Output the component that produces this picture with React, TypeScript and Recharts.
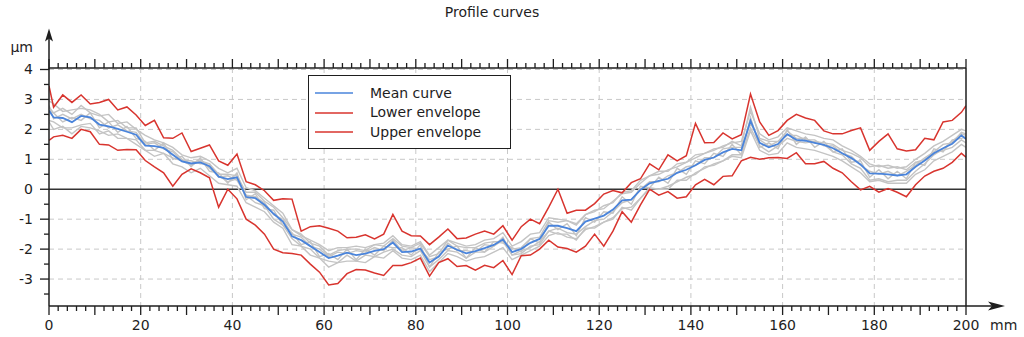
import React from 'react';
import { LineChart, Line, XAxis, YAxis, CartesianGrid, ReferenceLine, Legend } from 'recharts';

// ---------- data ----------
const positionsMm = [0, 1, 3, 5, 7, 9, 11, 13, 15, 17, 19, 21, 23, 25, 27, 29, 31, 33, 35, 37, 39, 41, 43, 45, 47, 49, 51, 53, 55, 57, 59, 61, 63, 65, 67, 69, 71, 73, 75, 77, 79, 81, 83, 85, 87, 89, 91, 93, 95, 97, 99, 101, 103, 105, 107, 109, 111, 113, 115, 117, 119, 121, 123, 125, 127, 129, 131, 133, 135, 137, 139, 141, 143, 145, 147, 149, 151, 153, 155, 157, 159, 161, 163, 165, 167, 169, 171, 173, 175, 177, 179, 181, 183, 185, 187, 189, 191, 193, 195, 197, 199, 200];

const meanCurve = [2.63, 2.40, 2.38, 2.24, 2.45, 2.40, 2.16, 2.10, 2.02, 1.92,
  1.82, 1.46, 1.44, 1.38, 1.15, 0.93, 0.86, 0.90, 0.77, 0.42,
  0.34, 0.40, -0.26, -0.30, -0.52, -0.82, -1.08, -1.57, -1.70, -1.90,
  -2.10, -2.30, -2.22, -2.12, -2.20, -2.15, -2.06, -2.00, -1.78, -2.10,
  -2.08, -1.98, -2.45, -2.25, -1.88, -2.02, -2.14, -2.07, -1.97, -1.86,
  -1.68, -2.10, -1.99, -1.79, -1.66, -1.22, -1.22, -1.30, -1.40, -1.08,
  -0.98, -0.88, -0.68, -0.37, -0.35, -0.02, 0.20, 0.28, 0.35, 0.55,
  0.65, 0.80, 0.98, 1.06, 1.23, 1.35, 1.30, 2.29, 1.55, 1.40,
  1.51, 1.84, 1.65, 1.62, 1.55, 1.48, 1.37, 1.20, 1.04, 0.83,
  0.53, 0.52, 0.50, 0.46, 0.50, 0.75, 0.96, 1.20, 1.37, 1.52,
  1.80, 1.68];

const lowerEnvelope = [1.63, 1.75, 1.80, 1.70, 2.00, 1.92, 1.50, 1.48, 1.30, 1.33,
  1.32, 0.96, 0.75, 0.55, 0.10, 0.50, 0.68, 0.55, 0.38, -0.60,
  0.00, -0.32, -1.00, -1.20, -1.50, -2.00, -2.12, -2.15, -2.20, -2.50,
  -2.77, -3.20, -3.15, -2.82, -2.68, -2.70, -2.80, -2.88, -2.55, -2.55,
  -2.45, -2.30, -2.90, -2.45, -2.32, -2.58, -2.55, -2.70, -2.54, -2.62,
  -2.38, -2.85, -2.22, -2.20, -2.00, -1.70, -1.93, -1.98, -2.10, -1.90,
  -1.50, -1.90, -1.40, -0.75, -1.10, -0.52, 0.00, -0.20, -0.08, -0.30,
  -0.25, 0.15, 0.33, 0.15, 0.43, 0.45, 0.95, 1.07, 1.00, 1.05,
  1.06, 1.03, 1.22, 0.85, 0.85, 0.93, 0.70, 0.55, 0.25, -0.02,
  0.10, -0.10, 0.02, -0.10, -0.25, 0.15, 0.44, 0.60, 0.70, 0.90,
  1.20, 1.07];

const upperEnvelope = [3.45, 2.74, 3.15, 2.90, 3.15, 2.85, 2.90, 3.00, 2.65, 2.75,
  2.48, 2.13, 2.30, 1.72, 1.70, 1.88, 1.26, 1.37, 1.48, 0.95,
  0.80, 1.18, 0.25, 0.15, -0.05, -0.37, -0.32, -0.33, -1.40, -1.25,
  -1.22, -1.30, -1.40, -1.62, -1.60, -1.52, -1.66, -1.50, -0.84, -1.40,
  -1.55, -1.56, -1.85, -1.60, -1.33, -1.65, -1.63, -1.50, -1.40, -1.50,
  -1.22, -1.70, -1.25, -1.00, -1.15, -0.60, 0.00, -0.80, -0.70, -0.70,
  -0.48, -0.16, -0.04, -0.12, 0.22, 0.35, 0.85, 0.65, 1.15, 0.95,
  1.12, 2.20, 1.55, 1.56, 1.88, 1.68, 1.82, 3.18, 2.25, 1.80,
  1.96, 2.30, 2.50, 2.38, 2.30, 1.95, 1.85, 1.85, 1.96, 2.05,
  1.30, 1.60, 1.85, 1.35, 1.28, 1.32, 1.70, 1.65, 2.25, 2.30,
  2.57, 2.79];

const profile1 = [2.75, 2.55, 2.70, 2.50, 2.80, 2.55, 2.45, 2.50, 2.20, 2.25,
  2.00, 1.80, 1.65, 1.55, 1.40, 1.15, 1.05, 1.10, 0.95, 0.70,
  0.55, 0.70, 0.05, -0.05, -0.30, -0.55, -0.80, -1.35, -1.55, -1.70,
  -1.85, -2.05, -1.95, -1.95, -1.90, -1.95, -1.85, -1.80, -1.55, -1.85,
  -1.90, -1.75, -2.20, -1.95, -1.70, -1.80, -1.90, -1.85, -1.70, -1.65,
  -1.45, -1.90, -1.75, -1.50, -1.45, -0.95, -1.00, -1.05, -1.15, -0.85,
  -0.70, -0.65, -0.40, -0.15, -0.10, 0.20, 0.45, 0.50, 0.65, 0.75,
  0.90, 1.05, 1.20, 1.30, 1.45, 1.55, 1.60, 2.60, 1.85, 1.65,
  1.75, 2.05, 1.95, 1.85, 1.80, 1.70, 1.65, 1.45, 1.30, 1.10,
  0.85, 0.75, 0.80, 0.70, 0.75, 1.00, 1.20, 1.45, 1.60, 1.80,
  2.00, 1.95];

const profile2 = [2.30, 2.25, 2.05, 2.05, 2.15, 2.20, 1.85, 1.95, 1.70, 1.70,
  1.50, 1.30, 1.10, 1.20, 0.85, 0.75, 0.55, 0.70, 0.45, 0.20,
  0.15, 0.10, -0.45, -0.60, -0.75, -1.10, -1.30, -1.85, -1.90, -2.20,
  -2.30, -2.60, -2.45, -2.40, -2.40, -2.45, -2.25, -2.30, -2.05, -2.30,
  -2.35, -2.20, -2.75, -2.45, -2.15, -2.25, -2.40, -2.30, -2.25, -2.10,
  -1.95, -2.35, -2.20, -2.05, -1.90, -1.55, -1.45, -1.60, -1.65, -1.35,
  -1.25, -1.10, -0.95, -0.65, -0.60, -0.30, 0.02, 0.00, 0.10, 0.25,
  0.40, 0.50, 0.75, 0.80, 0.95, 1.10, 1.05, 1.95, 1.30, 1.15,
  1.20, 1.55, 1.40, 1.35, 1.30, 1.20, 1.10, 0.95, 0.75, 0.55,
  0.25, 0.30, 0.20, 0.20, 0.20, 0.50, 0.65, 0.95, 1.10, 1.25,
  1.50, 1.40];

const profile3 = [2.95, 2.85, 2.60, 2.65, 2.70, 2.65, 2.50, 2.25, 2.30, 2.05,
  2.05, 1.55, 1.60, 1.45, 1.30, 1.00, 0.85, 1.00, 0.70, 0.45,
  0.25, 0.35, -0.20, -0.45, -0.55, -1.00, -1.20, -1.65, -1.90, -2.00,
  -2.30, -2.40, -2.45, -2.20, -2.40, -2.20, -2.25, -2.10, -2.00, -2.20,
  -2.25, -2.05, -2.60, -2.35, -2.05, -2.10, -2.30, -2.10, -2.10, -1.90,
  -1.70, -2.00, -1.95, -1.65, -1.60, -1.05, -1.10, -1.05, -1.20, -0.85,
  -0.75, -0.55, -0.45, -0.10, -0.05, 0.30, 0.45, 0.60, 0.60, 0.85,
  0.90, 1.15, 1.20, 1.35, 1.40, 1.60, 1.45, 2.75, 1.70, 1.60,
  1.60, 1.95, 1.70, 1.70, 1.55, 1.50, 1.25, 1.15, 0.85, 0.70,
  0.30, 0.35, 0.25, 0.30, 0.30, 0.60, 0.85, 1.15, 1.35, 1.60,
  1.85, 1.80];

const profile4 = [2.25, 2.00, 2.10, 1.85, 2.10, 2.05, 1.95, 1.80, 1.85, 1.70,
  1.65, 1.30, 1.30, 1.20, 1.05, 0.95, 0.80, 0.95, 0.85, 0.50,
  0.50, 0.45, -0.10, -0.10, -0.40, -0.60, -0.95, -1.35, -1.50, -1.80,
  -1.90, -2.20, -2.05, -2.00, -2.00, -2.05, -1.85, -1.90, -1.65, -1.90,
  -1.95, -1.80, -2.25, -2.15, -1.70, -1.90, -1.95, -1.95, -1.80, -1.75,
  -1.75, -2.20, -2.15, -1.90, -1.85, -1.40, -1.50, -1.50, -1.70, -1.30,
  -1.30, -1.10, -1.00, -0.60, -0.70, -0.30, 0.05, 0.00, 0.00, 0.30,
  0.30, 0.55, 0.70, 0.85, 0.95, 1.15, 1.15, 2.05, 1.45, 1.25,
  1.45, 1.70, 1.60, 1.55, 1.60, 1.55, 1.50, 1.30, 1.20, 1.05,
  0.75, 0.80, 0.70, 0.75, 0.65, 0.90, 1.00, 1.20, 1.30, 1.40,
  1.65, 1.55];

const profile5 = [2.60, 2.55, 2.25, 2.40, 2.30, 2.55, 2.05, 2.25, 1.90, 2.10,
  1.70, 1.60, 1.30, 1.55, 1.00, 1.10, 0.75, 1.05, 0.60, 0.55,
  0.20, 0.55, -0.35, -0.15, -0.65, -0.70, -1.20, -1.45, -1.85, -1.75,
  -2.25, -2.15, -2.35, -2.00, -2.35, -2.00, -2.20, -1.90, -1.95, -1.95,
  -2.20, -1.85, -2.60, -2.10, -2.00, -1.90, -2.30, -1.95, -2.10, -1.75,
  -1.80, -1.95, -2.10, -1.65, -1.80, -1.10, -1.35, -1.15, -1.55, -0.95,
  -1.10, -0.75, -0.80, -0.25, -0.50, 0.10, 0.05, 0.40, 0.20, 0.70,
  0.50, 0.95, 0.85, 1.20, 1.10, 1.50, 1.15, 2.40, 1.40, 1.55,
  1.35, 2.00, 1.50, 1.75, 1.40, 1.60, 1.25, 1.35, 0.90, 0.95,
  0.40, 0.65, 0.35, 0.60, 0.35, 0.90, 0.80, 1.35, 1.25, 1.65,
  1.70, 1.75];

const profile6 = [2.80, 2.35, 2.50, 2.35, 2.50, 2.35, 2.30, 2.05, 2.15, 1.95,
  1.90, 1.50, 1.55, 1.35, 1.25, 0.95, 0.95, 0.85, 0.85, 0.40,
  0.45, 0.30, -0.20, -0.25, -0.45, -0.85, -1.00, -1.50, -1.60, -1.90,
  -2.00, -2.25, -2.10, -2.15, -2.05, -2.10, -1.95, -2.05, -1.70, -2.05,
  -1.95, -2.00, -2.35, -2.25, -1.80, -2.05, -2.05, -2.10, -1.85, -1.90,
  -1.60, -2.20, -2.05, -1.95, -1.75, -1.40, -1.30, -1.45, -1.50, -1.25,
  -1.05, -1.00, -0.75, -0.45, -0.35, 0.00, 0.25, 0.25, 0.45, 0.55,
  0.75, 0.80, 1.05, 1.05, 1.35, 1.40, 1.40, 2.20, 1.65, 1.45,
  1.60, 1.80, 1.80, 1.65, 1.65, 1.45, 1.45, 1.20, 1.10, 0.80,
  0.60, 0.50, 0.60, 0.45, 0.60, 0.80, 1.05, 1.25, 1.50, 1.55,
  1.90, 1.85];

const profileKeys = ['p1', 'p2', 'p3', 'p4', 'p5', 'p6'];
const profileSeries = [profile1, profile2, profile3, profile4, profile5, profile6];

const xTickLabels = [0, 20, 40, 60, 80, 100, 120, 140, 160, 180, 200];
const yTickLabels = [-3, -2, -1, 0, 1, 2, 3, 4];
const xGridValues = [20, 40, 60, 80, 100, 120, 140, 160, 180];
const yGridValues = [-3, -2, -1, 1, 2, 3, 4];
const xDomain: [number, number] = [0, 200];
const yDomain: [number, number] = [-3.9, 4.05];
const xMinorTicks = Array.from({ length: 101 }, (_, i) => i * 2);
const yMinorTicks = Array.from({ length: 16 }, (_, i) => -3.5 + i * 0.5);

const legendOrder = ['Mean curve', 'Lower envelope', 'Upper envelope'];

const rows = positionsMm.map((x, i) => {
  const r: Record<string, number> = {
    x,
    mean: meanCurve[i],
    lower: lowerEnvelope[i],
    upper: upperEnvelope[i],
  };
  profileKeys.forEach((k, j) => {
    r[k] = profileSeries[j][i];
  });
  return r;
});

// ---------- styles ----------
const FONT = '"DejaVu Sans", Verdana, sans-serif';
const AXIS = '#1e1e1e';
const RED = '#d8342e';
const BLUE = '#4a84db';
const GREY = '#c4c4c4';
const legendColors: Record<string, string> = {
  'Mean curve': BLUE,
  'Lower envelope': RED,
  'Upper envelope': RED,
};

function BottomTick(props: any) {
  const x = Number(props.x);
  const y0 = Number(props.y);
  const v = Number(props.payload?.value);
  const len = v % 10 === 0 ? 9 : 5;
  return (
    <g>
      <rect x={x - 0.65} y={y0} width={1.3} height={len} fill={AXIS} />
      {xTickLabels.includes(v) && (
        <text x={x} y={y0 + 24} textAnchor="middle" fontSize={14} fill={AXIS} fontFamily={FONT}>
          {v}
        </text>
      )}
      {v === xDomain[1] && (
        <g>
          <rect x={x} y={y0 - 0.75} width={30} height={1.5} fill={AXIS} />
          <path d={`M${x + 39},${y0} L${x + 22},${y0 - 4.5} L${x + 26},${y0} L${x + 22},${y0 + 4.5} Z`} fill={AXIS} />
          <text x={x + 24} y={y0 + 24} textAnchor="start" fontSize={14} fill={AXIS} fontFamily={FONT}>
            mm
          </text>
        </g>
      )}
    </g>
  );
}

function TopTick(props: any) {
  const x = Number(props.x);
  const y = Number(props.y);
  const v = Number(props.payload?.value);
  const len = v % 10 === 0 ? 9 : 5;
  return (
    <g>
      <rect x={x - 0.65} y={y - len} width={1.3} height={len} fill={AXIS} />
    </g>
  );
}

function LeftTick(props: any) {
  const x = Number(props.x);
  const y = Number(props.y);
  const v = Number(props.payload?.value);
  const major = Number.isInteger(v);
  const len = major ? 9 : 5;
  return (
    <g>
      <rect x={x - len} y={y - 0.65} width={len} height={1.3} fill={AXIS} />
      {major && yTickLabels.includes(v) && (
        <text x={x - 16} y={y + 5} textAnchor="end" fontSize={14} fill={AXIS} fontFamily={FONT}>
          {v}
        </text>
      )}
      {v === yTickLabels[yTickLabels.length - 1] && (
        <g>
          <rect x={x - 0.75} y={y - 32} width={1.5} height={32} fill={AXIS} />
          <path d={`M${x},${y - 41} L${x - 4},${y - 28} L${x},${y - 31} L${x + 4},${y - 28} Z`} fill={AXIS} />
          <text x={x - 16} y={y - 17} textAnchor="end" fontSize={14} fill={AXIS} fontFamily={FONT}>
            µm
          </text>
        </g>
      )}
    </g>
  );
}

function renderLegend(props: any) {
  const payload: any[] = props.payload || [];
  const items = legendOrder.map((name) => payload.find((p) => p.value === name) || { value: name });
  return (
    <div
      style={{
        boxSizing: 'border-box',
        width: 203,
        height: 74,
        border: `1px solid ${AXIS}`,
        background: '#fff',
        paddingTop: 7.5,
        fontFamily: FONT,
        fontSize: 14,
        color: AXIS,
      }}
    >
      {items.map((it: any) => (
        <div key={it.value} style={{ display: 'flex', alignItems: 'center', height: 19.5 }}>
          <svg width={44} height={6} style={{ display: 'block' }}>
            <line x1={6} x2={44} y1={3} y2={3} stroke={legendColors[String(it.value)]} strokeWidth={1.6} />
          </svg>
          <span style={{ marginLeft: 17, lineHeight: '19.5px' }}>{it.value}</span>
        </div>
      ))}
    </div>
  );
}

export default function App() {
  return (
    <div style={{ position: 'absolute', left: 0, top: 0, width: 1024, height: 337, background: '#fff' }}>
      <div
        style={{
          position: 'absolute',
          left: 392,
          top: 4,
          width: 200,
          textAlign: 'center',
          fontFamily: FONT,
          fontSize: 14,
          lineHeight: '16px',
          color: AXIS,
        }}
      >
        Profile curves
      </div>
      <LineChart width={1024} height={337} data={rows} margin={{ top: 67, right: 57, bottom: 6, left: 4 }}>
        <CartesianGrid
          xAxisId="bottom"
          yAxisId="left"
          stroke="#c8c8c8"
          strokeDasharray="5 4"
          verticalValues={xGridValues}
          horizontalValues={yGridValues}
        />
        <XAxis
          xAxisId="bottom"
          dataKey="x"
          type="number"
          domain={xDomain}
          allowDataOverflow
          ticks={xMinorTicks}
          interval={0}
          tickLine={false}
          tickSize={0}
          tickMargin={0}
          axisLine={{ stroke: AXIS, strokeWidth: 1.5 }}
          tick={<BottomTick />}
          height={25}
        />
        <XAxis
          xAxisId="top"
          orientation="top"
          dataKey="x"
          type="number"
          domain={xDomain}
          allowDataOverflow
          ticks={xMinorTicks}
          interval={0}
          tickLine={false}
          tickSize={0}
          tickMargin={0}
          axisLine={{ stroke: AXIS, strokeWidth: 1.5 }}
          tick={<TopTick />}
          height={1}
        />
        <YAxis
          yAxisId="left"
          type="number"
          domain={yDomain}
          allowDataOverflow
          ticks={yMinorTicks}
          interval={0}
          tickLine={false}
          tickSize={0}
          tickMargin={0}
          axisLine={{ stroke: AXIS, strokeWidth: 1.5 }}
          tick={<LeftTick />}
          width={45}
        />
        <YAxis
          yAxisId="right"
          orientation="right"
          type="number"
          domain={yDomain}
          allowDataOverflow
          tick={false}
          tickLine={false}
          axisLine={{ stroke: AXIS, strokeWidth: 1.5 }}
          width={1}
        />
        <ReferenceLine xAxisId="bottom" yAxisId="left" y={0} stroke="#333" strokeWidth={1.6} />
        {profileKeys.map((k) => (
          <Line
            key={k}
            xAxisId="bottom"
            yAxisId="left"
            type="linear"
            dataKey={k}
            stroke={GREY}
            strokeWidth={1.4}
            dot={false}
            activeDot={false}
            legendType="none"
            isAnimationActive={false}
          />
        ))}
        <Line xAxisId="bottom" yAxisId="left" type="linear" dataKey="lower" name="Lower envelope" stroke={RED} strokeWidth={1.5} dot={false} activeDot={false} isAnimationActive={false} />
        <Line xAxisId="bottom" yAxisId="left" type="linear" dataKey="upper" name="Upper envelope" stroke={RED} strokeWidth={1.5} dot={false} activeDot={false} isAnimationActive={false} />
        <Line xAxisId="bottom" yAxisId="left" type="linear" dataKey="mean" name="Mean curve" stroke={BLUE} strokeWidth={1.8} dot={false} activeDot={false} isAnimationActive={false} />
        <Legend
          layout="horizontal"
          verticalAlign="middle"
          align="center"
          content={renderLegend}
          wrapperStyle={{ left: 308, top: 75, width: 203, height: 74 }}
        />
      </LineChart>
    </div>
  );
}
